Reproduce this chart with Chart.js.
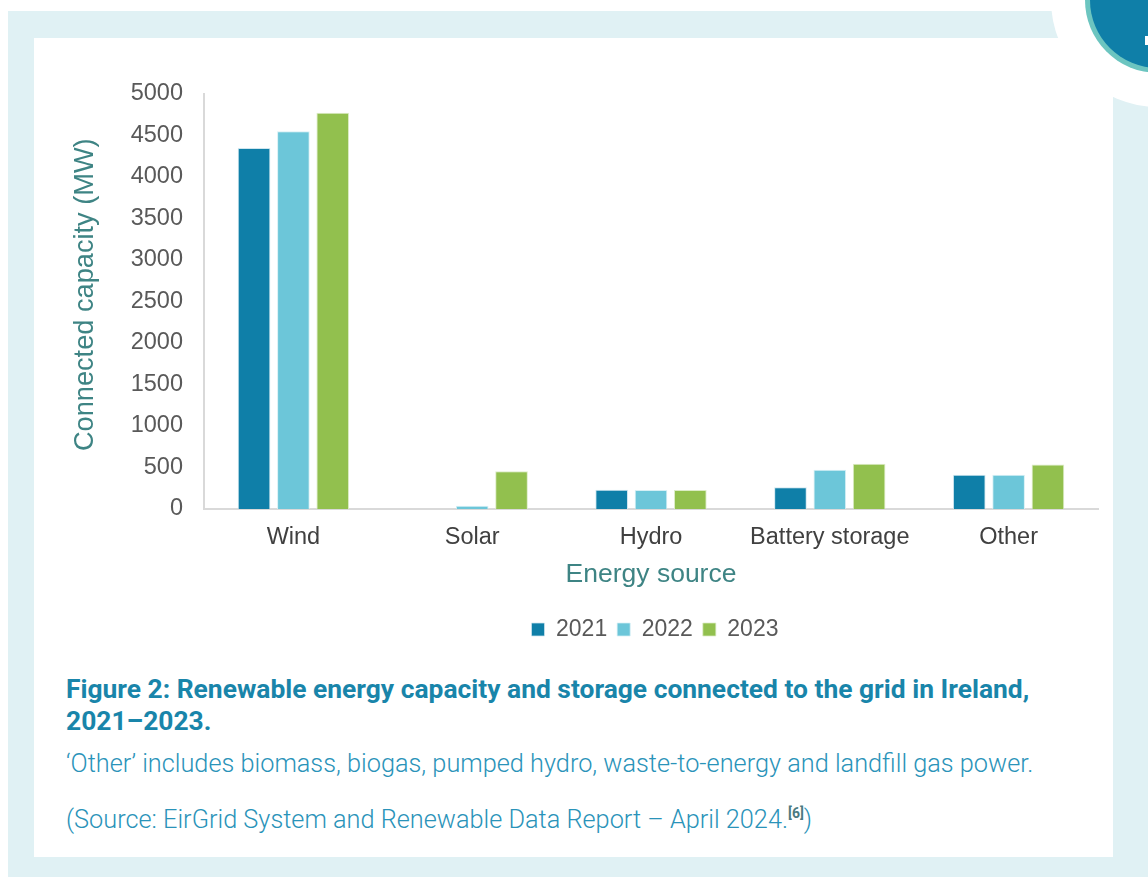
<!DOCTYPE html>
<html>
<head>
<meta charset="utf-8">
<script src="https://cdn.jsdelivr.net/npm/chart.js@4"></script>
<style>
  html, body { margin:0; padding:0; width:1148px; height:877px; overflow:hidden; background:#ffffff; }
  .bg { position:absolute; left:8px; top:11px; width:1140px; height:866px; background:#e0f1f4; }
  .panel { position:absolute; left:34px; top:38px; width:1079px; height:819px; background:#ffffff; }
  .halo { position:absolute; left:1051px; top:-107px; width:214px; height:214px; border-radius:50%; background:#ffffff; }
  .ring { position:absolute; left:1085px; top:-73px; width:146px; height:146px; border-radius:50%; background:#6cc5c0; }
  .disc { position:absolute; left:1090px; top:-68px; width:136px; height:136px; border-radius:50%; background:#0f7fa8; }
  .mark { position:absolute; left:1145px; top:36px; width:3px; height:9px; background:#ffffff; }
  .chartbox { position:absolute; left:34px; top:38px; width:1079px; height:617px; }
  .cap { position:absolute; left:66px; font-family:Roboto, "Noto Sans", sans-serif; white-space:nowrap; }
  .fig { top:673px; font-size:26.4px; font-weight:700; color:#1985aa; line-height:32px; }
  .note { font-size:25.3px; font-weight:300; color:#2a93b9; line-height:30px; }
  .sup { font-size:14px; font-weight:700; color:#4b7a80; vertical-align:10px; }
</style>
</head>
<body>
<div class="bg"></div>
<div class="panel"></div>
<div class="halo"></div>
<div class="ring"></div>
<div class="disc"></div>
<div class="mark"></div>
<div class="chartbox"><canvas id="c"></canvas></div>
<div class="cap fig">Figure 2: Renewable energy capacity and storage connected to the grid in Ireland,<br>2021–2023.</div>
<div class="cap note" style="top:749px;">‘Other’ includes biomass, biogas, pumped hydro, waste-to-energy and landfill gas power.</div>
<div class="cap note" style="top:798px;">(Source: EirGrid System and Renewable Data Report – April 2024.<span class="sup">[6]</span>)</div>
<script>
const categories = ["Wind", "Solar", "Hydro", "Battery storage", "Other"];
const seriesNames = ["2021", "2022", "2023"];
const values2021 = [4350, 0, 232, 262, 412];
const values2022 = [4550, 40, 230, 472, 412];
const values2023 = [4775, 455, 230, 545, 535];
const yTicks = [0, 500, 1000, 1500, 2000, 2500, 3000, 3500, 4000, 4500, 5000];
const colors = ["#0f7fa8", "#6cc6d9", "#92c04e"];
const borders = ["#cfe6ef", "#d6f0f5", "#dcecc6"];

const allValues = [values2021, values2022, values2023];
const datasets = seriesNames.map((n, i) => ({
  label: n,
  data: allValues[i],
  backgroundColor: colors[i],
  borderColor: borders[i],
  borderWidth: {top:1, left:1, right:1, bottom:0},
  borderSkipped: 'bottom',
  categoryPercentage: 0.66,
  barPercentage: 0.83
}));

const legendShift = {
  id: 'legendShift',
  afterLayout(chart) {
    const l = chart.legend, a = chart.chartArea;
    if (!l || !a) return;
    const d = (a.left + a.right) / 2 - (l.left + l.right) / 2 + 4;
    l.left += d; l.right += d;
    if (l.legendHitBoxes) l.legendHitBoxes.forEach(h => { h.left += d; });
  }
};

const font = '"Liberation Sans", Arial, sans-serif';

new Chart(document.getElementById('c'), {
  type: 'bar',
  data: { labels: categories, datasets },
  plugins: [legendShift],
  options: {
    responsive: true,
    maintainAspectRatio: false,
    animation: false,
    devicePixelRatio: 1,
    layout: { padding: { left: 35, right: 15, top: 56, bottom: 4 } },
    plugins: {
      tooltip: { enabled: false },
      legend: {
        position: 'bottom',
        labels: {
          font: { family: font, size: 23 },
          color: '#595959',
          boxWidth: 13, boxHeight: 13,
          padding: 10
        }
      }
    },
    scales: {
      x: {
        afterFit: (s) => { s.height = 99; },
        grid: { display: false, drawTicks: false },
        border: { color: '#d9d9d9', width: 2 },
        ticks: {
          font: { family: font, size: 23.5 },
          color: '#404040',
          padding: 14
        },
        title: {
          display: true,
          text: 'Energy source',
          font: { family: font, size: 26.5 },
          color: '#3e8484',
          padding: { top: 0, bottom: 17 }
        }
      },
      y: {
        min: 0, max: 5000,
        afterBuildTicks: (s) => { s.ticks = yTicks.map(v => ({ value: v })); },
        afterFit: (s) => { s.width = 135; },
        grid: { display: false, drawTicks: false },
        border: { color: '#d9d9d9', width: 2 },
        ticks: {
          font: { family: font, size: 23.5 },
          color: '#595959',
          padding: 21,
          callback: (v) => String(v)
        },
        title: {
          display: true,
          text: '\u2002Connected capacity (MW)',
          font: { family: font, size: 27.2 },
          color: '#3e8484',
          padding: { top: 0, bottom: 4 }
        }
      }
    }
  }
});
</script>
</body>
</html>
